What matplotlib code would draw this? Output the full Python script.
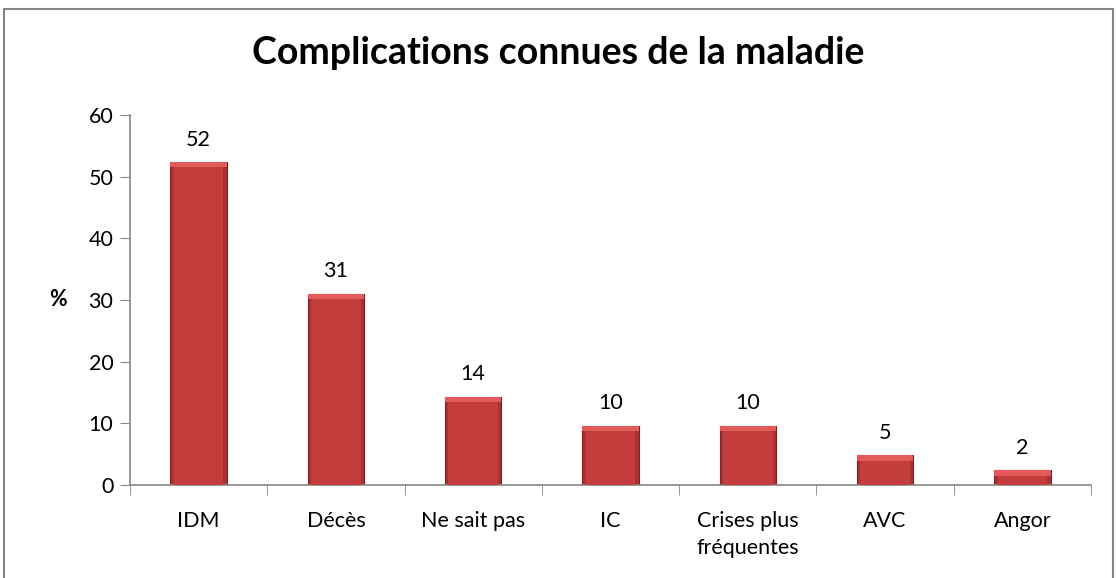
import matplotlib.pyplot as plt
from matplotlib.patches import Rectangle
import numpy as np

categories = ["IDM", "Décès", "Ne sait pas", "IC", "Crises plus\nfréquentes", "AVC", "Angor"]
values = [52.4, 31.0, 14.3, 9.6, 9.6, 4.8, 2.4]
labels = ["52", "31", "14", "10", "10", "5", "2"]

plt.rcParams['font.family'] = ['Lato', 'DejaVu Sans']

fig = plt.figure(figsize=(11.17, 5.78), dpi=100)
ax = fig.add_axes([130 / 1117, 1 - 485 / 578, (1091 - 130) / 1117, 370 / 578])

x = np.arange(len(categories))
bars = ax.bar(x, values, width=0.41, color='#A93232', edgecolor='#7E2020', linewidth=0.8, zorder=2)

# lighter inner face and cap on each bar, to mimic the bevel
for b in bars:
    cap = min(0.9, b.get_height() * 0.5)
    ax.add_patch(Rectangle((b.get_x() + b.get_width() * 0.06, 0), b.get_width() * 0.88,
                           b.get_height() - cap, facecolor='#C23D3C', edgecolor='none', zorder=3))
    ax.add_patch(Rectangle((b.get_x(), b.get_height() - cap), b.get_width(), cap,
                           facecolor='#E25B5A', edgecolor='none', zorder=3))

for xi, v, lab in zip(x, values, labels):
    ax.text(xi, v + 2.0, lab, ha='center', va='bottom', fontsize=15.5)

ax.set_xlim(-0.5, len(categories) - 0.5)
ax.set_ylim(0, 60)
ax.set_yticks(range(0, 61, 10))
ax.set_xticks(x)
ax.set_xticklabels(categories, fontsize=15.5, linespacing=1.4)
ax.set_xticks(np.arange(-0.5, len(categories), 1), minor=True)
ax.tick_params(axis='x', which='major', length=0, pad=19)
ax.tick_params(axis='x', which='minor', length=7, color='#868686', direction='out')
ax.tick_params(axis='y', labelsize=15.5, length=7, color='#868686', direction='out', pad=5)

for side in ['top', 'right']:
    ax.spines[side].set_visible(False)
for side in ['left', 'bottom']:
    ax.spines[side].set_color('#868686')
    ax.spines[side].set_linewidth(1.2)

ax.set_ylabel('%', rotation=0, fontsize=15.5, fontweight='bold', labelpad=22, va='center')

fig.text(0.5, 1 - 53 / 578, 'Complications connues de la maladie', ha='center', va='center',
         fontsize=27, fontweight='bold')

# chart frame
fig.patches.append(Rectangle((4 / 1117, -0.1), 1109 / 1117, 1.1 - 9 / 578, transform=fig.transFigure,
                             fill=False, edgecolor='#868686', linewidth=1.5))

fig.savefig('out.png', dpi=100)
plt.close(fig)
